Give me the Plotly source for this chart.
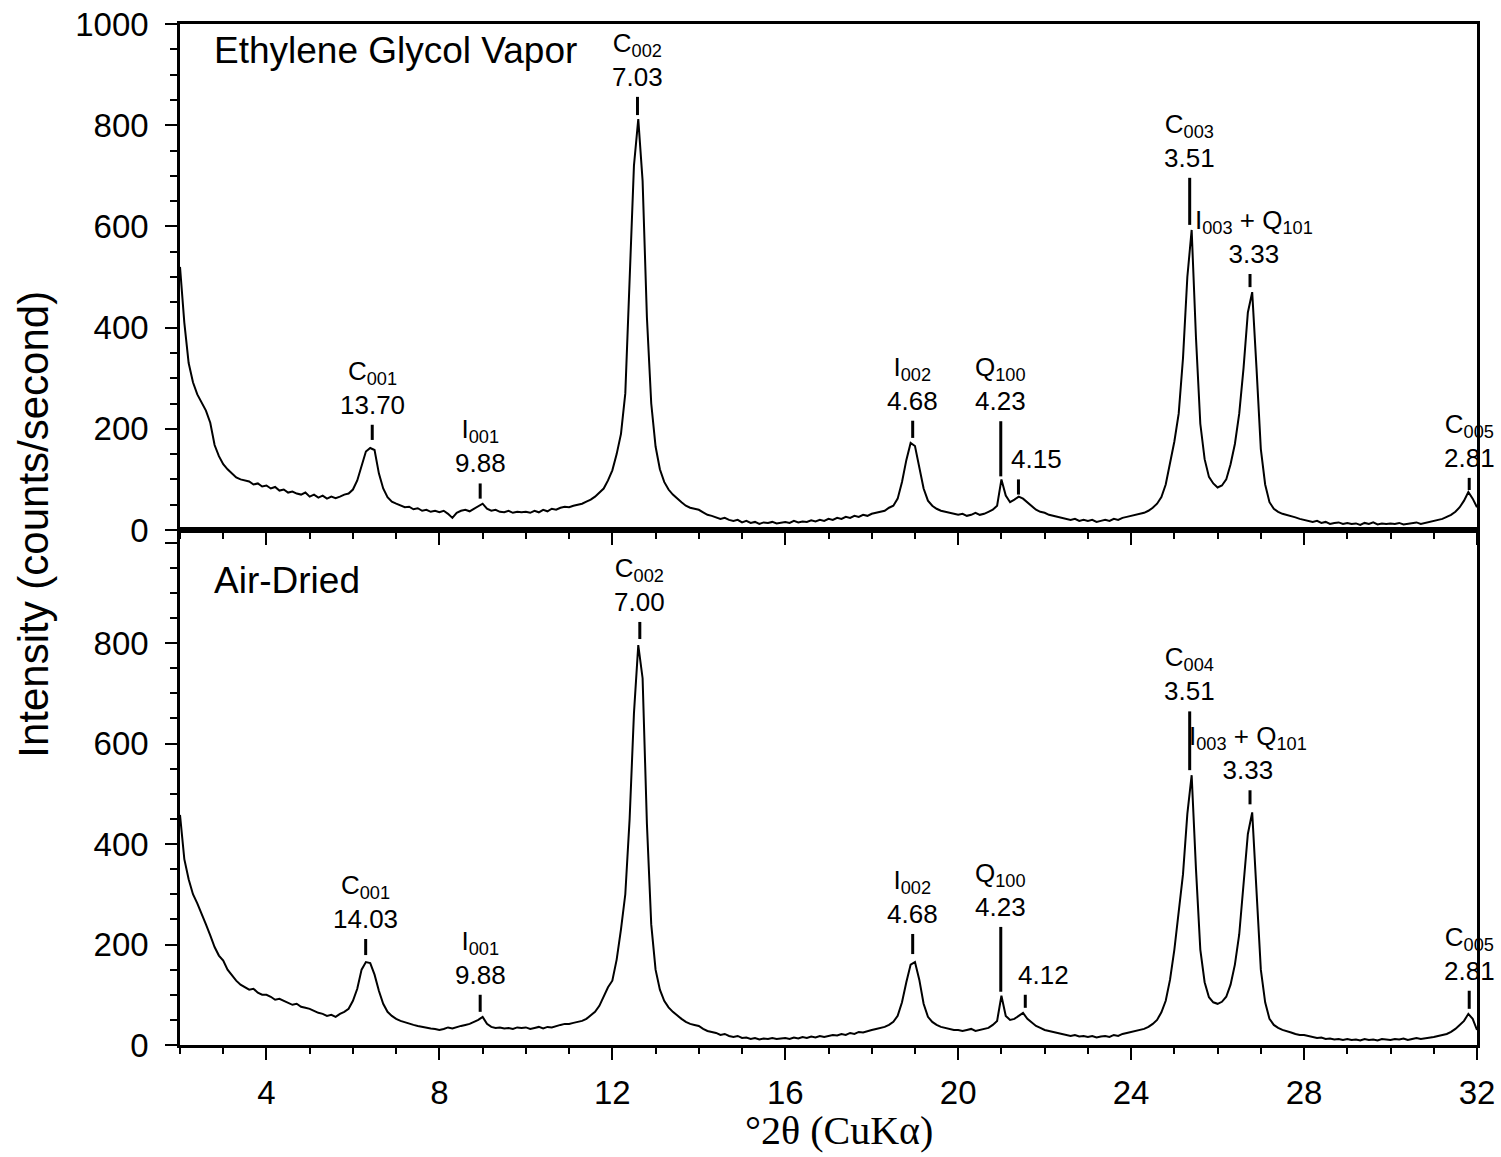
import numpy as np
import plotly.graph_objects as go

# Cu K-alpha wavelength (Å) used to place the d-spacing markers
WAVELENGTH = 1.5406

# 2θ scan grid, 2–32° in 0.1° steps
two_theta = np.round(np.arange(20, 321) / 10, 1)

# Ethylene glycol vapor solvated pattern (counts/second)
glycol = [
    520, 410, 330, 292, 268, 252, 236, 212, 168, 146,
    130, 120, 112, 104, 100, 98, 96, 90, 92, 86,
    88, 82, 85, 78, 80, 74, 76, 72, 70, 74,
    66, 70, 64, 68, 62, 66, 63, 66, 70, 72,
    80, 98, 128, 155, 162, 158, 112, 82, 65, 56,
    52, 48, 45, 46, 41, 43, 38, 40, 36, 38,
    35, 38, 32, 24, 34, 38, 40, 37, 42, 48,
    52, 42, 38, 40, 36, 35, 38, 34, 36, 35,
    36, 34, 38, 35, 40, 37, 42, 40, 44, 46,
    45, 48, 50, 52, 56, 60, 66, 74, 82, 98,
    118, 150, 190, 270, 480, 720, 812, 690, 420, 250,
    165, 120, 95, 80, 70, 62, 55, 48, 44, 42,
    40, 35, 30, 28, 25, 22, 24, 20, 18, 20,
    15, 18, 14, 16, 12, 15, 14, 16, 13, 15,
    16, 14, 18, 15, 17, 16, 19, 17, 20, 18,
    22, 20, 24, 22, 26, 24, 28, 26, 30, 28,
    32, 34, 36, 38, 44, 48, 62, 95, 138, 172,
    166, 125, 82, 58, 48, 42, 38, 36, 34, 32,
    30, 32, 28, 30, 34, 30, 32, 36, 40, 48,
    100, 68, 55, 60, 66, 62, 54, 46, 40, 36,
    34, 30, 28, 26, 24, 22, 20, 22, 18, 20,
    18, 20, 16, 18, 20, 18, 22, 20, 24, 26,
    28, 30, 32, 34, 38, 44, 52, 65, 90, 130,
    175, 230, 340, 500, 593, 380, 210, 140, 105, 92,
    84, 88, 100, 130, 170, 230, 320, 430, 470, 320,
    160, 90, 55, 42, 36, 32, 30, 28, 25, 22,
    20, 18, 16, 18, 14, 16, 12, 14, 15, 12,
    14, 12, 13, 10, 14, 12, 15, 11, 13, 12,
    13, 12, 14, 11, 12, 13, 15, 12, 14, 16,
    18, 20, 22, 26, 30, 36, 45, 58, 75, 62,
    45,
]

# Air-dried pattern (counts/second)
air_dried = [
    458, 370, 330, 300, 282, 262, 240, 218, 195, 178,
    168, 150, 138, 128, 120, 115, 110, 112, 104, 100,
    100, 96, 90, 92, 88, 84, 80, 82, 76, 74,
    72, 68, 64, 62, 58, 60, 56, 62, 66, 72,
    88, 112, 150, 165, 163, 140, 108, 82, 66, 58,
    52, 48, 45, 42, 40, 38, 36, 34, 33, 32,
    30, 32, 35, 33, 36, 38, 40, 42, 46, 50,
    56, 42, 36, 34, 35, 33, 34, 32, 35, 34,
    35, 32, 34, 36, 33, 36, 35, 38, 40, 42,
    42, 44, 46, 48, 52, 60, 66, 78, 95, 115,
    128, 170, 230, 300, 450, 660, 796, 730, 440, 240,
    150, 110, 88, 75, 66, 58, 52, 46, 42, 40,
    38, 32, 28, 26, 24, 20, 22, 18, 16, 18,
    14, 15, 12, 14, 11, 13, 12, 14, 12, 13,
    14, 12, 15, 13, 16, 14, 17, 15, 18, 16,
    18, 20, 19, 22, 20, 24, 22, 26, 25, 28,
    30, 32, 34, 36, 40, 46, 58, 85, 125, 160,
    165, 130, 82, 56, 46, 40, 36, 34, 32, 30,
    30, 28, 30, 32, 28, 30, 32, 34, 40, 48,
    98, 58, 50, 52, 58, 64, 52, 44, 38, 34,
    30, 28, 26, 24, 22, 20, 18, 20, 17, 18,
    16, 18, 15, 17, 18, 16, 20, 18, 22, 24,
    26, 28, 30, 32, 36, 42, 50, 65, 88, 130,
    190, 260, 340, 460, 537, 350, 190, 125, 95, 85,
    82, 86, 96, 120, 160, 220, 320, 420, 463, 300,
    150, 85, 52, 40, 34, 30, 28, 25, 22, 20,
    20, 18, 16, 14, 15, 12, 13, 11, 12, 10,
    12, 10, 11, 9, 12, 10, 11, 9, 12, 11,
    10, 12, 11, 13, 10, 12, 14, 12, 13, 15,
    16, 18, 20, 22, 26, 32, 40, 48, 62, 52,
    30,
]

# Reflection labels: phase/hkl name and d-spacing (Å)
glycol_names = ["C<sub>001</sub>", "I<sub>001</sub>", "C<sub>002</sub>", "I<sub>002</sub>",
                "Q<sub>100</sub>", "", "C<sub>003</sub>", "I<sub>003</sub> + Q<sub>101</sub>",
                "C<sub>005</sub>"]
glycol_d = ["13.70", "9.88", "7.03", "4.68", "4.23", "4.15", "3.51", "3.33", "2.81"]

air_names = ["C<sub>001</sub>", "I<sub>001</sub>", "C<sub>002</sub>", "I<sub>002</sub>",
             "Q<sub>100</sub>", "", "C<sub>004</sub>", "I<sub>003</sub> + Q<sub>101</sub>",
             "C<sub>005</sub>"]
air_d = ["14.03", "9.88", "7.00", "4.68", "4.23", "4.12", "3.51", "3.33", "2.81"]

# Marker styling per label: gap above peak, marker length (counts), horizontal text shift (px)
glycol_gap = [16, 10, 8, 10, 6, 4, 10, 10, 4]
glycol_len = [30, 30, 36, 34, 109, 30, 93, 26, 24]
glycol_shift = [0, 0, 0, 0, 0, 18, 0, 4, 0]

air_gap = [14, 10, 12, 16, 8, 10, 10, 16, 10]
air_len = [32, 34, 34, 40, 129, 26, 117, 28, 36]
air_shift = [0, 0, 0, 0, 0, 18, 0, -2, 0]

FONT = "Arial, Liberation Sans, sans-serif"
LABEL_SIZE = 26


def bragg_two_theta(d):
    return float(np.degrees(2 * np.arcsin(WAVELENGTH / (2 * d))))


def peak_markers(x, y, names, ds, gaps, lens, shifts, xa, ya):
    x = np.asarray(x)
    y = np.asarray(y, dtype=float)
    lx, ly, notes = [], [], []
    for name, d_txt, gap, ln, sh in zip(names, ds, gaps, lens, shifts):
        pos = bragg_two_theta(float(d_txt))
        near = np.abs(x - pos) <= 0.151
        top = y[near].max()
        y0 = top + gap
        y1 = y0 + ln
        lx += [pos, pos, None]
        ly += [y0, y1, None]
        text = f"{name}<br>{d_txt}" if name else d_txt
        notes.append(dict(
            x=pos, y=y1, xref=xa, yref=ya, text=text, showarrow=False,
            xanchor="center", yanchor="bottom", xshift=sh, yshift=3,
            font=dict(family=FONT, size=LABEL_SIZE, color="black"),
        ))
    line = go.Scatter(x=lx, y=ly, mode="lines", xaxis=xa, yaxis=ya,
                      line=dict(color="black", width=3), hoverinfo="skip",
                      showlegend=False)
    return line, notes


fig = go.Figure()
fig.add_trace(go.Scatter(x=two_theta, y=glycol, mode="lines", xaxis="x", yaxis="y",
                         line=dict(color="black", width=2), showlegend=False,
                         name="Ethylene Glycol Vapor"))
fig.add_trace(go.Scatter(x=two_theta, y=air_dried, mode="lines", xaxis="x2", yaxis="y2",
                         line=dict(color="black", width=2), showlegend=False,
                         name="Air-Dried"))

top_line, top_notes = peak_markers(two_theta, glycol, glycol_names, glycol_d,
                                   glycol_gap, glycol_len, glycol_shift, "x", "y")
bot_line, bot_notes = peak_markers(two_theta, air_dried, air_names, air_d,
                                   air_gap, air_len, air_shift, "x2", "y2")
fig.add_trace(top_line)
fig.add_trace(bot_line)

SPLIT = 0.5044
axis_common = dict(
    showline=True, linecolor="black", linewidth=2.5, mirror=True,
    ticks="outside", tickcolor="black", tickwidth=2, ticklen=12,
    showgrid=False, zeroline=False, automargin=False,
    tickfont=dict(family=FONT, size=33, color="black"),
)
x_common = dict(axis_common, range=[2, 32], tickvals=[4, 8, 12, 16, 20, 24, 28, 32],
                minor=dict(tick0=2, dtick=1, ticks="outside", ticklen=6,
                           tickcolor="black", tickwidth=2, showgrid=False))
y_minor = dict(tick0=0, dtick=50, ticks="outside", ticklen=7,
               tickcolor="black", tickwidth=2, showgrid=False)

fig.update_layout(
    width=1501, height=1157,
    margin=dict(l=180, r=24, t=24, b=112, autoexpand=False),
    paper_bgcolor="white", plot_bgcolor="white",
    xaxis=dict(x_common, domain=[0, 1], anchor="y", showticklabels=False, matches="x2"),
    yaxis=dict(axis_common, domain=[SPLIT, 1], anchor="x", range=[0, 1000],
               tickvals=[0, 200, 400, 600, 800, 1000], minor=y_minor,
               ticklabelstandoff=10),
    xaxis2=dict(x_common, domain=[0, 1], anchor="y2", ticklabelstandoff=5),
    yaxis2=dict(axis_common, domain=[0, SPLIT], anchor="x2", range=[0, 1025],
                tickvals=[0, 200, 400, 600, 800, 1000],
                ticktext=["0", "200", "400", "600", "800", ""],
                minor=y_minor, ticklabelstandoff=10),
    annotations=top_notes + bot_notes + [
        dict(text="Ethylene Glycol Vapor", x=0.025, y=0.9745, xref="paper", yref="paper",
             xanchor="left", yanchor="middle", showarrow=False,
             font=dict(family=FONT, size=37, color="black")),
        dict(text="Air-Dried", x=0.025, y=0.4554, xref="paper", yref="paper",
             xanchor="left", yanchor="middle", showarrow=False,
             font=dict(family=FONT, size=37, color="black")),
        dict(text="Intensity (counts/second)", x=-0.113, y=0.51, xref="paper",
             yref="paper", xanchor="center", yanchor="middle", textangle=-90,
             showarrow=False, font=dict(family=FONT, size=42, color="black")),
        dict(text="°2θ (CuKα)", x=0.508, y=-0.084, xref="paper", yref="paper",
             xanchor="center", yanchor="middle", showarrow=False,
             font=dict(family="Times New Roman, Liberation Serif, serif", size=40,
                       color="black")),
    ],
)

fig.write_html("out.html")
